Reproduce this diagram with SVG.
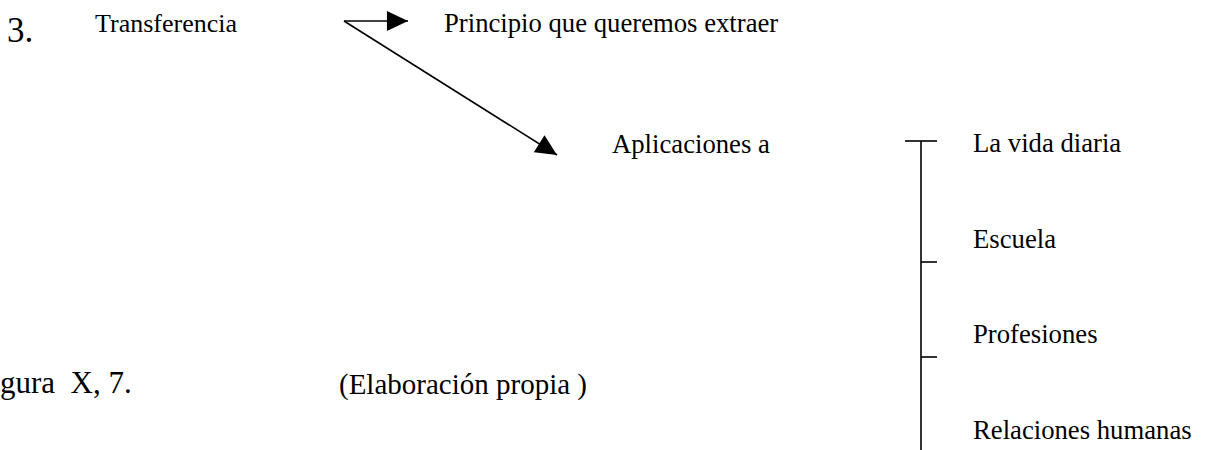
<svg xmlns="http://www.w3.org/2000/svg" width="1205" height="450" viewBox="0 0 1205 450">
<defs>
<style>
text{font-family:"Liberation Serif","Times New Roman",serif;fill:#000;white-space:pre}
.t{font-size:26.7px}
.ln{stroke:#000;stroke-width:1.6;fill:none}
</style>
<marker id="ah" markerUnits="userSpaceOnUse" markerWidth="22" markerHeight="20" viewBox="0 0 20 19" refX="20" refY="9.5" orient="auto">
<path d="M0,0 L20,9.5 L0,19 z" fill="#000"/>
</marker>
</defs>
<rect width="1205" height="450" fill="#fff"/>
<g id="connectors">
<line class="ln" x1="344" y1="21" x2="408" y2="21" marker-end="url(#ah)"/>
<line class="ln" x1="344" y1="21" x2="557" y2="155" marker-end="url(#ah)"/>
<line class="ln" x1="921" y1="141" x2="921" y2="450"/>
<line class="ln" x1="905" y1="141" x2="937" y2="141"/>
<line class="ln" x1="921" y1="262" x2="937" y2="262"/>
<line class="ln" x1="921" y1="357" x2="937" y2="357"/>
</g>
<g id="num"><text x="7" y="42" font-size="35">3.</text></g>
<g id="transferencia"><text x="95" y="32" font-size="26">Transferencia</text></g>
<g id="principio"><text class="t" x="444" y="32">Principio que queremos extraer</text></g>
<g id="aplicaciones"><text class="t" x="612" y="153">Aplicaciones a</text></g>
<g id="vida"><text class="t" x="973" y="152">La vida diaria</text></g>
<g id="escuela"><text class="t" x="973" y="248">Escuela</text></g>
<g id="profesiones"><text class="t" x="973" y="343">Profesiones</text></g>
<g id="relaciones"><text class="t" x="973" y="439">Relaciones humanas</text></g>
<g id="figura"><text x="0" y="393" font-size="31">gura  X, 7.</text></g>
<g id="elaboracion"><text x="339" y="394" font-size="29">(Elaboración propia )</text></g>
</svg>
